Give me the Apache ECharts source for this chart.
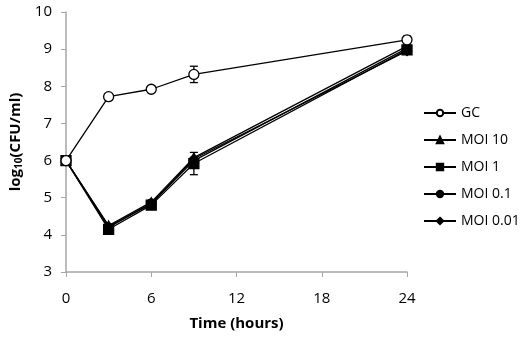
<!DOCTYPE html>
<html>
<head>
<meta charset="utf-8">
<script src="https://cdn.jsdelivr.net/npm/echarts@6/dist/echarts.min.js"></script>
<style>
  html, body { margin: 0; padding: 0; background: #fff; }
  #chart { width: 529px; height: 339px; }
</style>
</head>
<body>
<div id="chart"></div>
<script>
// time points (hours)
const times = [0, 3, 6, 9, 24];

// log10 CFU/ml
const gc      = [6.0, 7.72, 7.92, 8.32, 9.25];
const moi10   = [6.0, 4.25, 4.88, 6.08, 9.08];
const moi1    = [6.0, 4.15, 4.80, 5.92, 8.98];
const moi01   = [6.0, 4.20, 4.85, 6.00, 9.02];
const moi001  = [6.0, 4.22, 4.83, 6.05, 8.95];

// error (± sd)
const gcErr     = [0.05, 0.08, 0.08, 0.22, 0.1];
const moi1Err   = [0.05, 0.1, 0.1, 0.3, 0.08];

const names = ['GC', 'MOI 10', 'MOI 1', 'MOI 0.1', 'MOI 0.01'];
const symbols = ['circle', 'triangle', 'rect', 'circle', 'diamond'];
const sizes = [10, 9, 10, 9, 9];
const values = [gc, moi10, moi1, moi01, moi001];

let chartDom = document.getElementById('chart');
let myChart = echarts.init(chartDom);

function pairs(arr) {
  return times.map((t, i) => [t, arr[i]]);
}

function errData(arr, err) {
  return times.map((t, i) => [t, arr[i] - err[i], arr[i] + err[i]]);
}

function renderErr(params, api) {
  let x = api.value(0);
  let lo = api.coord([x, api.value(1)]);
  let hi = api.coord([x, api.value(2)]);
  let w = 4;
  let st = { stroke: '#000', lineWidth: 1.3 };
  return {
    type: 'group',
    children: [
      { type: 'line', shape: { x1: lo[0], y1: lo[1], x2: hi[0], y2: hi[1] }, style: st },
      { type: 'line', shape: { x1: lo[0] - w, y1: lo[1], x2: lo[0] + w, y2: lo[1] }, style: st },
      { type: 'line', shape: { x1: hi[0] - w, y1: hi[1], x2: hi[0] + w, y2: hi[1] }, style: st }
    ]
  };
}

let series = [
  { type: 'custom', renderItem: renderErr, data: errData(gc, gcErr), z: 1, silent: true },
  { type: 'custom', renderItem: renderErr, data: errData(moi1, moi1Err), z: 1, silent: true }
];

names.forEach((n, i) => {
  series.push({
    name: n,
    type: 'line',
    data: pairs(values[i]),
    symbol: symbols[i],
    symbolSize: sizes[i],
    showAllSymbol: true,
    z: i === 0 ? 5 : 3,
    lineStyle: { color: '#000', width: 1.3 },
    itemStyle: { color: i === 0 ? '#fff' : '#000', borderColor: '#000', borderWidth: 1.3 }
  });
});

let option = {
  backgroundColor: '#fff',
  animation: false,
  grid: { left: 66, right: 122, top: 12, bottom: 67 },
  legend: {
    orient: 'vertical',
    left: 418,
    top: 101,
    itemWidth: 32,
    itemHeight: 8,
    itemGap: 13,
    data: names,
    textStyle: { fontFamily: 'Open Sans', fontSize: 14, color: '#000' }
  },
  xAxis: {
    type: 'value',
    min: 0,
    max: 24,
    interval: 6,
    name: 'Time (hours)',
    nameLocation: 'middle',
    nameGap: 44,
    nameTextStyle: { fontFamily: 'Open Sans', fontWeight: 'bold', fontSize: 15, color: '#000' },
    axisLine: { lineStyle: { color: '#a6a6a6', width: 1.5 } },
    axisTick: { show: true, length: 5, lineStyle: { color: '#a6a6a6' } },
    axisLabel: { margin: 19, fontFamily: 'Open Sans', fontSize: 15, color: '#000' },
    splitLine: { show: false }
  },
  yAxis: {
    type: 'value',
    min: 3,
    max: 10,
    interval: 1,
    name: '{a|log}{s|10}{a|(CFU/ml)}',
    nameLocation: 'middle',
    nameGap: 40,
    nameRotate: 90,
    nameTextStyle: {
      rich: {
        a: { fontFamily: 'Open Sans', fontWeight: 'bold', fontSize: 15, color: '#000' },
        s: { fontFamily: 'Open Sans', fontWeight: 'bold', fontSize: 10, color: '#000', padding: [6, 0, 0, 0] }
      }
    },
    axisLine: { show: true, lineStyle: { color: '#a6a6a6', width: 1.5 } },
    axisTick: { show: true, length: 5, lineStyle: { color: '#a6a6a6' } },
    axisLabel: { margin: 14, fontFamily: 'Open Sans', fontSize: 15, color: '#000' },
    splitLine: { show: false }
  },
  series: series
};

myChart.setOption(option);
</script>
</body>
</html>
